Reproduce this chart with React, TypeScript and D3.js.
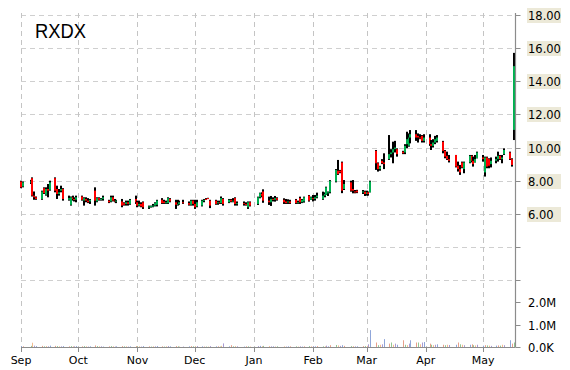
import React from "react";
import * as d3 from "d3";

const TITLE = "RXDX";
const START = new Date(2016, 8, 1);
const END = new Date(2017, 4, 18);
const HOLIDAYS = ["2016-09-05", "2016-11-24", "2016-12-26", "2017-01-02", "2017-01-16", "2017-02-20", "2017-04-14"];
const MONTH_LABELS = ["Sep", "Oct", "Nov", "Dec", "Jan", "Feb", "Mar", "Apr", "May"];
const PRICE_TICKS = [18, 16, 14, 12, 10, 8, 6];
const PRICE_GRID = [18, 16, 14, 12, 10, 8, 6, 4, 2];
const VOLUME_TICKS = [0, 1e6, 2e6];

// [open, high, low, close] per trading day
const OHLC: number[][] = [
  // Sep
  [7.95, 8.0, 7.55, 7.6], [7.65, 7.95, 7.6, 7.9], [7.9, 8.05, 7.8, 7.95], [8.15, 8.2, 7.05, 7.1], [7.1, 7.35, 6.85, 7.0],
  [7.0, 7.05, 6.85, 6.9], [6.9, 7.4, 6.85, 7.35], [7.55, 7.6, 7.2, 7.25], [7.15, 7.6, 7.1, 7.5], [7.5, 7.8, 7.0, 7.4],
  [7.45, 8.0, 7.4, 7.9], [8.15, 8.2, 7.3, 7.4], [7.5, 7.7, 6.9, 7.2], [7.2, 7.5, 7.1, 7.3], [7.4, 7.7, 7.3, 7.5],
  [7.5, 7.55, 6.8, 6.9], [6.85, 7.1, 6.8, 6.95], [6.55, 7.05, 6.5, 7.0], [7.0, 7.1, 6.8, 6.9], [6.9, 7.0, 6.75, 6.85],
  [6.85, 7.1, 6.7, 7.0],
  // Oct
  [7.05, 7.1, 6.8, 6.85], [6.8, 7.0, 6.5, 6.95], [6.9, 7.0, 6.7, 6.8], [6.8, 6.95, 6.65, 6.7], [6.75, 6.9, 6.6, 6.85],
  [7.4, 7.6, 6.5, 6.8], [6.75, 7.0, 6.7, 6.95], [6.95, 7.0, 6.8, 6.85], [6.85, 6.95, 6.8, 6.9], [6.9, 7.1, 6.8, 7.0],
  [6.8, 6.85, 6.65, 6.7], [6.75, 7.1, 6.7, 7.0], [7.0, 7.1, 6.75, 6.8], [6.8, 6.9, 6.7, 6.75], [6.75, 6.85, 6.65, 6.8],
  [6.75, 6.9, 6.4, 6.5], [6.65, 6.7, 6.5, 6.55], [6.6, 6.8, 6.5, 6.7], [6.7, 6.8, 6.5, 6.6], [6.6, 6.9, 6.55, 6.85],
  [6.9, 7.1, 6.6, 6.7],
  // Nov
  [6.7, 6.8, 6.4, 6.5], [6.5, 6.8, 6.45, 6.6], [6.6, 6.7, 6.4, 6.45], [6.7, 6.75, 6.3, 6.4], [6.4, 6.5, 6.3, 6.45],
  [6.42, 6.5, 6.38, 6.48], [6.45, 6.6, 6.4, 6.5], [6.5, 6.7, 6.45, 6.65], [6.55, 6.85, 6.45, 6.8], [6.85, 6.95, 6.6, 6.65],
  [6.75, 6.85, 6.6, 6.65], [6.65, 6.8, 6.6, 6.7], [6.65, 7.0, 6.6, 6.95], [6.9, 6.95, 6.7, 6.75], [6.7, 6.85, 6.3, 6.55],
  [6.55, 6.85, 6.5, 6.6], [6.6, 6.8, 6.55, 6.7], [6.7, 6.85, 6.6, 6.65], [6.65, 6.75, 6.5, 6.55], [6.55, 6.85, 6.5, 6.8],
  [6.8, 6.85, 6.5, 6.6],
  // Dec
  [6.6, 6.85, 6.3, 6.4], [6.45, 6.85, 6.4, 6.7], [6.5, 6.85, 6.45, 6.8], [6.8, 6.9, 6.7, 6.85], [6.9, 6.95, 6.85, 6.88],
  [6.95, 6.97, 6.9, 6.92], [6.8, 6.85, 6.35, 6.5], [6.8, 6.85, 6.55, 6.6], [6.65, 6.8, 6.55, 6.7], [6.7, 6.8, 6.6, 6.65],
  [6.65, 7.05, 6.6, 6.95], [6.9, 6.95, 6.5, 6.6], [6.7, 6.9, 6.65, 6.85], [6.85, 6.9, 6.7, 6.75], [6.75, 6.95, 6.7, 6.8],
  [6.95, 7.0, 6.5, 6.6], [6.6, 6.75, 6.5, 6.65], [6.65, 6.75, 6.5, 6.6], [6.6, 6.7, 6.5, 6.55], [6.4, 6.75, 6.3, 6.7],
  [6.7, 6.75, 6.45, 6.5],
  // Jan
  [6.6, 7.04, 6.54, 7.0], [7.0, 7.28, 6.94, 7.25], [7.2, 7.3, 7.0, 7.1], [7.35, 7.48, 6.67, 6.8], [6.8, 7.04, 6.54, 6.7],
  [6.7, 7.08, 6.48, 6.9], [6.9, 7.0, 6.75, 6.85], [6.85, 7.08, 6.74, 6.95], [6.95, 7.0, 6.8, 6.85], [6.85, 6.94, 6.6, 6.7],
  [6.75, 6.9, 6.6, 6.65], [6.7, 6.88, 6.6, 6.75], [6.75, 6.85, 6.6, 6.65], [6.85, 6.9, 6.6, 6.65], [6.65, 6.8, 6.6, 6.7],
  [6.95, 7.04, 6.6, 6.7], [6.7, 6.9, 6.65, 6.85], [6.75, 7.04, 6.68, 7.0], [7.1, 7.14, 6.74, 6.8], [6.85, 7.04, 6.84, 7.0],
  // Feb
  [6.95, 7.14, 6.75, 6.9], [6.9, 7.14, 6.8, 7.0], [7.0, 7.28, 6.94, 7.1], [6.9, 7.34, 6.85, 7.1], [7.1, 7.3, 7.0, 7.2],
  [7.15, 7.64, 7.14, 7.6], [7.25, 7.35, 7.08, 7.3], [7.3, 8.04, 7.24, 8.0], [7.95, 8.7, 7.9, 8.65], [8.6, 9.25, 8.35, 8.4],
  [8.6, 8.65, 8.45, 8.5], [9.1, 9.15, 7.25, 7.4], [7.5, 8.04, 7.44, 7.8], [7.9, 8.0, 7.34, 7.4], [7.5, 8.04, 7.24, 7.4],
  [7.35, 7.44, 7.24, 7.3], [7.4, 7.45, 7.25, 7.3], [7.3, 7.44, 7.2, 7.35], [7.34, 7.4, 7.08, 7.2],
  // Mar
  [7.2, 7.4, 7.1, 7.3], [7.3, 7.35, 7.1, 7.2], [7.3, 8.0, 7.3, 7.95], [9.8, 9.85, 8.65, 9.05], [9.05, 9.1, 8.55, 8.7],
  [8.7, 8.9, 8.6, 8.85], [9.2, 9.3, 9.0, 9.05], [9.1, 9.65, 8.7, 9.0], [9.3, 10.75, 9.25, 9.6], [9.6, 9.9, 9.4, 9.7],
  [9.7, 10.35, 9.05, 9.9], [9.9, 10.4, 9.7, 10.0], [9.9, 9.95, 9.45, 9.6], [9.75, 9.8, 9.6, 9.65], [9.7, 10.2, 9.6, 10.1],
  [10.2, 10.95, 9.95, 10.5], [10.1, 10.85, 10.05, 10.6], [10.6, 11.05, 10.25, 10.8], [10.8, 11.05, 10.4, 10.6], [10.7, 10.85, 10.3, 10.6],
  [10.6, 10.8, 10.5, 10.55], [10.7, 10.75, 10.3, 10.4], [10.4, 10.8, 10.3, 10.6],
  // Apr
  [10.6, 10.8, 10.1, 10.2], [10.2, 10.45, 9.85, 10.1], [10.1, 10.5, 10.0, 10.3], [10.3, 10.7, 10.2, 10.5], [10.4, 10.75, 10.3, 10.6],
  [10.35, 10.4, 9.65, 9.8], [9.8, 9.85, 9.35, 9.45], [9.5, 9.75, 9.25, 9.3], [9.3, 9.55, 9.1, 9.2], [9.55, 9.55, 8.8, 8.85],
  [8.9, 9.15, 8.55, 8.7], [8.7, 8.95, 8.35, 8.5], [9.1, 9.15, 8.75, 8.8], [8.7, 9.15, 8.45, 9.1], [9.1, 9.55, 9.05, 9.5],
  [9.5, 9.55, 9.1, 9.2], [9.2, 9.45, 8.85, 9.0], [9.1, 9.55, 9.1, 9.3], [9.35, 9.75, 9.35, 9.7],
  // May
  [9.4, 9.55, 9.15, 9.3], [8.5, 9.45, 8.25, 9.4], [9.4, 9.45, 8.75, 8.85], [9.3, 9.35, 8.75, 8.9], [9.0, 9.4, 8.8, 9.2],
  [9.2, 9.45, 9.05, 9.3], [9.3, 9.75, 9.15, 9.5], [9.5, 9.55, 9.25, 9.3], [9.3, 9.55, 9.05, 9.4], [9.6, 9.95, 9.55, 9.85],
  [9.7, 9.75, 9.25, 9.3], [9.3, 9.35, 8.85, 8.95], [11.06, 15.7, 10.45, 14.9],
];

// volume in millions per trading day
const VOLUME_M: number[] = [
  0.04, 0.03, 0.05, 0.19, 0.06, 0.04, 0.05, 0.03, 0.04, 0.03, 0.06, 0.05, 0.04, 0.03, 0.03, 0.04, 0.03, 0.04, 0.03, 0.03, 0.04,
  0.03, 0.04, 0.03, 0.02, 0.03, 0.07, 0.04, 0.03, 0.03, 0.02, 0.03, 0.04, 0.03, 0.02, 0.03, 0.04, 0.03, 0.03, 0.02, 0.03, 0.04,
  0.03, 0.03, 0.02, 0.04, 0.03, 0.02, 0.03, 0.03, 0.04, 0.03, 0.02, 0.03, 0.04, 0.03, 0.04, 0.03, 0.02, 0.02, 0.03, 0.04, 0.03,
  0.03, 0.04, 0.03, 0.02, 0.02, 0.02, 0.04, 0.03, 0.03, 0.02, 0.05, 0.16, 0.03, 0.08, 0.03, 0.04, 0.03, 0.02, 0.03, 0.03, 0.02,
  0.04, 0.05, 0.03, 0.05, 0.04, 0.03, 0.03, 0.02, 0.03, 0.03, 0.02, 0.03, 0.03, 0.03, 0.02, 0.03, 0.02, 0.03, 0.04, 0.03,
  0.03, 0.03, 0.04, 0.03, 0.03, 0.06, 0.03, 0.08, 0.09, 0.07, 0.05, 0.08, 0.05, 0.04, 0.04, 0.03, 0.03, 0.04, 0.04,
  0.05, 0.12, 0.75, 0.2, 0.08, 0.1, 0.12, 0.35, 0.15, 0.2, 0.1, 0.15, 0.1, 0.3, 0.1, 0.08, 0.15, 0.3, 0.2, 0.2, 0.12, 0.2, 0.22,
  0.15, 0.1, 0.08, 0.1, 0.12, 0.1, 0.08, 0.1, 0.09, 0.1, 0.2, 0.12, 0.1, 0.08, 0.1, 0.12, 0.08, 0.07, 0.1,
  0.06, 0.08, 0.07, 0.06, 0.05, 0.06, 0.07, 0.06, 0.1, 0.08, 0.3, 0.15, 0.2,
];

const VOL_COLORS = ["#8fa6da", "#e8a08a", "#93c893", "#f2bb90", "#a99bd2"];

const W = 570;
const H = 370;
const LEFT = 21;
const RIGHT = 515.5;
const TOP = 13;
const BOTTOM = 347;
const FONT = "'DejaVu Sans', Verdana, sans-serif";

function isoLocal(d: Date) {
  return d3.timeFormat("%Y-%m-%d")(d);
}

export default function App() {
  const tradingDays = d3
    .timeDay.range(START, END)
    .filter((d) => d.getDay() !== 0 && d.getDay() !== 6 && !HOLIDAYS.includes(isoLocal(d)));
  const n = Math.min(tradingDays.length, OHLC.length);
  const data = d3.range(n).map((i) => ({
    date: tradingDays[i],
    o: OHLC[i][0],
    h: OHLC[i][1],
    l: OHLC[i][2],
    c: OHLC[i][3],
    v: (VOLUME_M[i] ?? 0) * 1e6,
  }));

  const x = d3.scaleTime().domain([START, END]).range([LEFT, RIGHT]);
  const y = d3.scaleLinear().domain([2, 18]).range([280.3, 14.7]);
  const yv = d3.scaleLinear().domain([0, 2e6]).range([BOTTOM, 302]);
  const months = d3.timeMonth.range(START, END);
  const fmtPrice = d3.format(".2f");
  const fmtVol = (v: number) => (v === 0 ? "0.0K" : d3.format(".1f")(v / 1e6) + "M");

  return (
    <svg width={W} height={H} style={{ position: "absolute", left: 0, top: 0, background: "#fff" }}>
      <rect x={0} y={0} width={W} height={H} fill="#fff" />
      {/* horizontal grid */}
      {PRICE_GRID.map((p) => (
        <line key={"hg" + p} x1={LEFT} x2={RIGHT} y1={Math.round(y(p)) + 0.5} y2={Math.round(y(p)) + 0.5}
          stroke="#cfcfcf" strokeDasharray="5,4" />
      ))}
      {/* vertical grid */}
      {months.map((m, i) => (
        <line key={"vg" + i} x1={Math.round(x(m)) + 0.5} x2={Math.round(x(m)) + 0.5} y1={TOP} y2={BOTTOM}
          stroke="#c4c4c4" strokeDasharray="5,4" />
      ))}
      {/* volume bars */}
      {data.map((d, i) => {
        const xv = Math.round(x(d.date));
        const top = Math.max(yv(d.v), 290);
        return (
          <rect key={"v" + i} x={xv} y={top} width={1} height={Math.max(1, BOTTOM - top)}
            fill={VOL_COLORS[i % VOL_COLORS.length]} />
        );
      })}
      {/* candles */}
      {data.map((d, i) => {
        const xc = Math.round(x(d.date));
        const bt = y(Math.max(d.o, d.c));
        const bb = y(Math.min(d.o, d.c));
        return (
          <g key={"c" + i}>
            <rect x={xc - 1} y={y(d.h)} width={2} height={Math.max(1, y(d.l) - y(d.h))} fill="#000" />
            <rect x={xc - 1} y={bt} width={2} height={Math.max(1, bb - bt)} fill={d.c >= d.o ? "#00b050" : "#ff0000"} />
          </g>
        );
      })}
      {/* title */}
      <text x={35} y={38} fontFamily="'Liberation Sans', Arial, sans-serif" fontSize={21} fill="#000"
        textLength={51} lengthAdjust="spacingAndGlyphs">{TITLE}</text>
      {/* right axis */}
      <line x1={RIGHT} x2={RIGHT} y1={TOP} y2={BOTTOM} stroke="#8c8c8c" strokeWidth={1.2} />
      {PRICE_GRID.map((p) => (
        <line key={"pt" + p} x1={RIGHT} x2={RIGHT + 5} y1={Math.round(y(p)) + 0.5} y2={Math.round(y(p)) + 0.5} stroke="#8c8c8c" />
      ))}
      {PRICE_TICKS.map((p) => (
        <g key={"pl" + p}>
          <rect x={527} y={Math.round(y(p)) - 7} width={34} height={15} fill="#ECE9D8" />
          <text x={528} y={Math.round(y(p)) + 4.5} fontFamily={FONT} fontSize={11.5} fill="#000">{fmtPrice(p)}</text>
        </g>
      ))}
      {VOLUME_TICKS.map((v) => (
        <g key={"vt" + v}>
          <line x1={RIGHT} x2={RIGHT + 5} y1={Math.round(yv(v)) + 0.5} y2={Math.round(yv(v)) + 0.5} stroke="#8c8c8c" />
          <text x={528} y={Math.round(yv(v)) + 4.5} fontFamily={FONT} fontSize={11.5} fill="#000">{fmtVol(v)}</text>
        </g>
      ))}
      {/* bottom axis */}
      <line x1={LEFT} x2={RIGHT} y1={BOTTOM + 0.5} y2={BOTTOM + 0.5} stroke="#8c8c8c" strokeWidth={1.2} />
      {months.map((m, i) => (
        <g key={"mt" + i}>
          <line x1={Math.round(x(m)) + 0.5} x2={Math.round(x(m)) + 0.5} y1={BOTTOM} y2={BOTTOM + 5} stroke="#8c8c8c" />
          <text x={x(m)} y={364} textAnchor="middle" fontFamily={FONT} fontSize={11} fill="#000">{MONTH_LABELS[i]}</text>
        </g>
      ))}
    </svg>
  );
}
